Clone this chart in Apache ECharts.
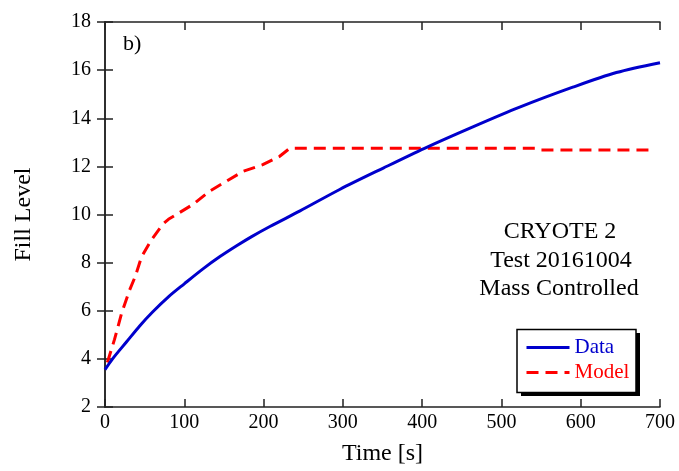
<!DOCTYPE html>
<html>
<head>
<meta charset="utf-8">
<script src="https://cdn.jsdelivr.net/npm/echarts@6/dist/echarts.min.js"></script>
<style>
  html, body { margin: 0; padding: 0; background: #fff; }
  #chart { width: 679px; height: 471px; }
</style>
</head>
<body>
<div id="chart"></div>
<script>
// Measured fill level (time [s], level)
const dataTime  = [0, 10, 27, 44, 60, 80, 100, 124, 145, 166, 185, 208, 246, 296, 351, 403, 464, 523, 590, 645, 700];
const dataLevel = [3.55, 4.02, 4.7, 5.38, 5.95, 6.58, 7.12, 7.75, 8.25, 8.7, 9.08, 9.5, 10.15, 11.04, 11.93, 12.75, 13.64, 14.46, 15.29, 15.9, 16.31];

// Model prediction (time [s], level)
const modelTime  = [3, 12, 21, 31, 38, 46, 58, 73, 80, 94, 111, 132, 153, 174, 199, 220, 233, 545, 550, 687];
const modelLevel = [3.85, 4.81, 5.9, 6.86, 7.41, 8.23, 8.92, 9.6, 9.8, 10.08, 10.42, 10.97, 11.38, 11.79, 12.07, 12.41, 12.75, 12.75, 12.68, 12.68];

const xTicks = [0, 100, 200, 300, 400, 500, 600, 700];
const yTicks = [2, 4, 6, 8, 10, 12, 14, 16, 18];

const noteLines = ['CRYOTE 2', 'Test 20161004', 'Mass Controlled'];
const panelTag = 'b)';

const FONT = "'Liberation Serif', 'Times New Roman', serif";
const AXIS_COLOR = '#222';
const BLUE = '#0000cc';
const RED = '#ff0000';

const pairs = (xs, ys) => xs.map((x, i) => [x, ys[i]]);

const G = { left: 105, right: 19, top: 22, bottom: 59 };

const baseAxisLine = { show: true, lineStyle: { color: AXIS_COLOR, width: 1.5 } };
const baseTick = { show: true, inside: true, length: 8, lineStyle: { color: AXIS_COLOR, width: 1.5 } };

const chart = echarts.init(document.getElementById('chart'), null, { renderer: 'canvas' });

chart.setOption({
  animation: false,
  backgroundColor: '#fff',
  textStyle: { fontFamily: FONT },
  grid: G,
  xAxis: [
    {
      type: 'value', min: xTicks[0], max: xTicks[xTicks.length - 1], interval: 100,
      name: 'Time [s]', nameLocation: 'middle', nameGap: 35,
      nameTextStyle: { fontFamily: FONT, fontSize: 24, color: '#000' },
      axisLine: baseAxisLine, axisTick: baseTick,
      axisLabel: { fontFamily: FONT, fontSize: 20, color: '#000', margin: 6 },
      splitLine: { show: false }
    },
    {
      type: 'value', position: 'top', min: xTicks[0], max: xTicks[xTicks.length - 1], interval: 100,
      axisLine: baseAxisLine, axisTick: baseTick, axisLabel: { show: false }, splitLine: { show: false }
    }
  ],
  yAxis: [
    {
      type: 'value', min: yTicks[0], max: yTicks[yTicks.length - 1], interval: 2,
      name: 'Fill Level', nameLocation: 'middle', nameGap: 69,
      nameTextStyle: { fontFamily: FONT, fontSize: 24, color: '#000' },
      axisLine: baseAxisLine, axisTick: baseTick,
      axisLabel: { fontFamily: FONT, fontSize: 20, color: '#000', margin: 14 },
      splitLine: { show: false }
    },
    {
      type: 'value', position: 'right', min: yTicks[0], max: yTicks[yTicks.length - 1], interval: 2,
      axisLine: baseAxisLine, axisTick: baseTick, axisLabel: { show: false }, splitLine: { show: false }
    }
  ],
  legend: {
    z: 50,
    orient: 'vertical',
    left: 525, top: 337,
    itemWidth: 43, itemHeight: 14, itemGap: 4,
    padding: 0,
    itemStyle: { opacity: 0, borderWidth: 0 },
    lineStyle: { width: 3 },
    textStyle: { fontFamily: FONT, fontSize: 21, lineHeight: 21 },
    data: [
      { name: 'Data', textStyle: { color: BLUE } },
      { name: 'Model', textStyle: { color: RED } }
    ]
  },
  graphic: [
    // legend frame with drop shadow
    { type: 'rect', z: 5, shape: { x: 521, y: 333, width: 119, height: 63 }, style: { fill: '#000' } },
    { type: 'rect', z: 6, shape: { x: 517, y: 329.5, width: 119, height: 63 }, style: { fill: '#fff', stroke: '#000', lineWidth: 1.5 } },
    { type: 'text', z: 10, left: 123, top: 33, style: { text: panelTag, font: '22px ' + FONT, fill: '#000' } },
    { type: 'text', z: 10, x: 560, y: 232, style: { text: noteLines[0], font: '24px ' + FONT, fill: '#000', align: 'center', verticalAlign: 'middle' } },
    { type: 'text', z: 10, x: 561, y: 260.5, style: { text: noteLines[1], font: '24px ' + FONT, fill: '#000', align: 'center', verticalAlign: 'middle' } },
    { type: 'text', z: 10, x: 559, y: 289, style: { text: noteLines[2], font: '24px ' + FONT, fill: '#000', align: 'center', verticalAlign: 'middle' } }
  ],
  series: [
    {
      name: 'Data', type: 'line', xAxisIndex: 0, yAxisIndex: 0,
      data: pairs(dataTime, dataLevel),
      smooth: 0.3, showSymbol: false, symbol: 'none',
      lineStyle: { color: BLUE, width: 3 }, itemStyle: { color: BLUE },
      z: 3
    },
    {
      name: 'Model', type: 'line', xAxisIndex: 0, yAxisIndex: 0,
      data: pairs(modelTime, modelLevel),
      showSymbol: false, symbol: 'none',
      lineStyle: { color: RED, width: 3, type: [12, 7] }, itemStyle: { color: RED },
      z: 2
    }
  ]
});
</script>
</body>
</html>
